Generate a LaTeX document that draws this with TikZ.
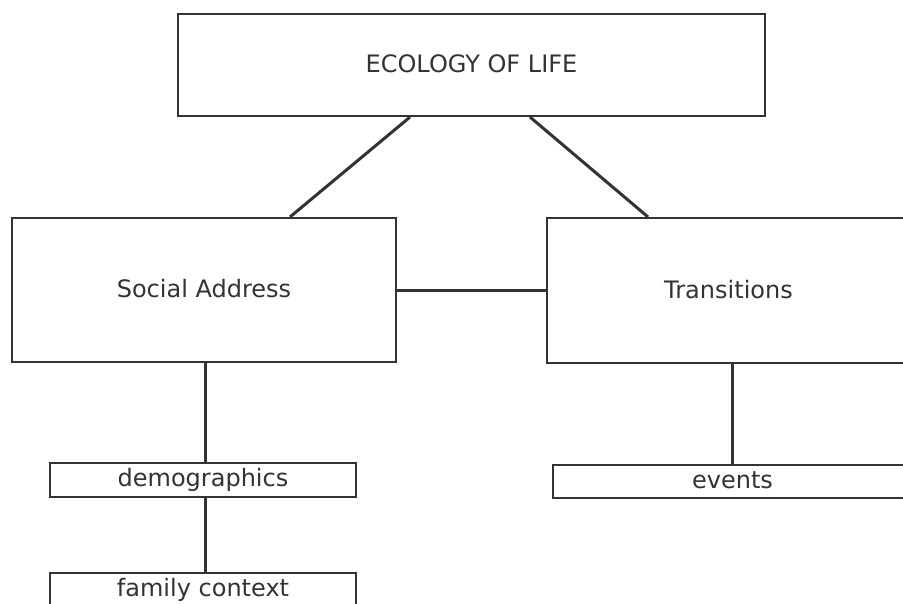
\documentclass[tikz,border=0pt]{standalone}
\usepackage{fontspec}
\setmainfont{DejaVu Sans}
\definecolor{ink}{HTML}{333333}
\newcommand{\lift}[1]{\raisebox{2.5pt}{#1}}
\begin{document}
\begin{tikzpicture}[x=1pt,y=-1pt,
  box/.style={draw=ink, line width=2.1pt, rectangle, inner sep=0pt, text=ink,
    font=\fontsize{24}{28}\selectfont},
  link/.style={draw=ink, line width=3pt}]
\useasboundingbox (0,0) rectangle (903,603);
\clip (0,0) rectangle (903,603);
\fill[white] (0,0) rectangle (903,603);
\node[box, minimum width=587pt, minimum height=102pt] (top) at (471.5,65) {\lift{ECOLOGY OF LIFE}};
\node[box, minimum width=384pt, minimum height=144pt] (social) at (204,290) {\lift{Social Address}};
\node[box, minimum width=363pt, minimum height=145pt] (trans) at (728.5,290.5) {\lift{Transitions}};
\node[box, minimum width=306pt, minimum height=34pt] (demo) at (203,480) {\lift{demographics}};
\node[box, minimum width=306pt, minimum height=34pt] (family) at (203,590) {\lift{family context}};
\node[box, minimum width=359pt, minimum height=33pt] (events) at (732.5,481.5) {\lift{events}};
\draw[link] ([xshift=-61.5pt]top.south) -- ([xshift=86pt]social.north);
\draw[link] ([xshift=58.5pt]top.south) -- ([xshift=-80.5pt]trans.north);
\draw[link] (social.east) -- (social.east -| trans.west);
\draw[link] ([xshift=1pt]social.south) -- ([xshift=1pt]social.south |- demo.north);
\draw[link] ([xshift=2pt]demo.south) -- ([xshift=2pt]demo.south |- family.north);
\draw[link] ([xshift=3.5pt]trans.south) -- ([xshift=3.5pt]trans.south |- events.north);
\end{tikzpicture}
\end{document}
